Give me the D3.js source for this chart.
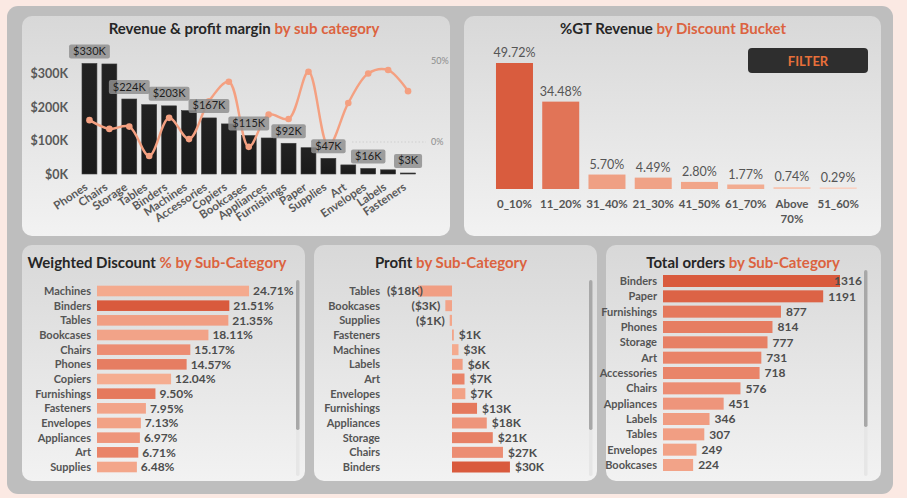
<!DOCTYPE html>
<html><head><meta charset="utf-8">
<script src="https://cdn.jsdelivr.net/npm/d3@7"></script>
<style>
html,body{margin:0;padding:0;background:#fbe9e3;}
svg{display:block;font-family:Lato,"Open Sans",sans-serif;}
</style></head><body>
<svg id="c" width="907" height="498"></svg>
<script>
// ---------- DATA ----------
const subCategories = ["Phones","Chairs","Storage","Tables","Binders","Machines","Accessories","Copiers","Bookcases","Appliances","Furnishings","Paper","Supplies","Art","Envelopes","Labels","Fasteners"];
const revenue = [330007,328449,223844,206966,203413,189239,167380,149528,114880,107532,91705,78479,46674,27119,16476,12486,3024];
const profitMargin = [0.135,0.081,0.095,-0.086,0.149,0.018,0.251,0.372,-0.030,0.169,0.142,0.434,-0.025,0.241,0.423,0.444,0.314];
const revenueTicks = [0,100000,200000,300000];
const marginTicks = [0,0.5];

const discountBuckets = ["0_10%","11_20%","31_40%","21_30%","41_50%","61_70%","Above 70%","51_60%"];
const gtRevenueShare = [0.4972,0.3448,0.0570,0.0449,0.0280,0.0177,0.0074,0.0029];

const discountNames = ["Machines","Binders","Tables","Bookcases","Chairs","Phones","Copiers","Furnishings","Fasteners","Envelopes","Appliances","Art","Supplies"];
const weightedDiscount = [0.2471,0.2151,0.2135,0.1811,0.1517,0.1457,0.1204,0.0950,0.0795,0.0713,0.0697,0.0671,0.0648];

const profitNames = ["Tables","Bookcases","Supplies","Fasteners","Machines","Labels","Art","Envelopes","Furnishings","Appliances","Storage","Chairs","Binders"];
const profitValues = [-17725,-3473,-1189,950,3385,5546,6528,6964,13059,18138,21279,26590,30222];

// orders: first 13 are visible in the scrolled list, the rest are estimates (hidden rows)
const orderNames = ["Binders","Paper","Furnishings","Phones","Storage","Art","Accessories","Chairs","Appliances","Labels","Tables","Envelopes","Bookcases","Fasteners","Supplies","Machines","Copiers"];
const orderCounts = [1316,1191,877,814,777,731,718,576,451,346,307,249,224,212,184,111,66];
const visibleOrderRows = 13;

// ---------- SETUP ----------
const svg = d3.select("#c");
const defs = svg.append("defs");
const pg = defs.append("linearGradient").attr("id","panelGrad").attr("x1",0).attr("y1",0).attr("x2",0).attr("y2",1);
pg.append("stop").attr("offset","0%").attr("stop-color","#d8d8d8");
pg.append("stop").attr("offset","100%").attr("stop-color","#f2f2f2");
const bgd = defs.append("linearGradient").attr("id","barGrad").attr("x1",0).attr("y1",0).attr("x2",0).attr("y2",1);
bgd.append("stop").attr("offset","0%").attr("stop-color","#222");
bgd.append("stop").attr("offset","100%").attr("stop-color","#1a1a1a");

svg.append("rect").attr("x",7).attr("y",6).attr("width",886).attr("height",488).attr("rx",11).attr("fill","#bebebe");

const panels = [[22,16,428,220],[464,16,417,220],[22,245,283,236],[314,245,283,236],[606,245,275,236]];
svg.selectAll("rect.panel").data(panels).join("rect").attr("class","panel")
  .attr("x",d=>d[0]).attr("y",d=>d[1]).attr("width",d=>d[2]).attr("height",d=>d[3])
  .attr("rx",10).attr("fill","url(#panelGrad)");

const ORANGE = "#dc6340";
function title(x,y,a,b,size){
  const t = svg.append("text").attr("x",x).attr("y",y).attr("text-anchor","middle")
    .attr("font-weight",700).attr("font-size",size||15);
  t.append("tspan").attr("fill","#262626").text(a);
  t.append("tspan").attr("fill",ORANGE).text(b);
}

const orderColor = d3.scaleLinear().domain([100,600,1316]).range(["#f4ab8f","#ec8c72","#d95a3d"]);
const ordersByName = new Map(orderNames.map((n,i)=>[n,orderCounts[i]]));

// ---------- CHART 1: Revenue & profit margin ----------
title(244,34,"Revenue & profit margin ","by sub category",15);
const x1 = d3.scaleBand().domain(subCategories).range([79.5,418]).paddingInner(0.25).paddingOuter(0.125);
const y1 = d3.scaleLinear().domain([0,300000]).range([174,73.5]);
const y1r = d3.scaleLinear().domain([0,0.5]).range([142,61]);

const ax1 = svg.append("g").attr("transform","translate(68,0)")
  .call(d3.axisLeft(y1).tickValues(revenueTicks).tickFormat(d=>"$"+d/1000+"K").tickSize(0).tickPadding(0));
ax1.select(".domain").remove();
ax1.selectAll("text").attr("font-family","Lato").attr("font-weight",700).attr("font-size",12.5).attr("fill","#595959");

const ax1r = svg.append("g").attr("transform","translate(431,0)")
  .call(d3.axisRight(y1r).tickValues(marginTicks).tickFormat(d3.format(".0%")).tickSize(0).tickPadding(0));
ax1r.select(".domain").remove();
ax1r.selectAll("text").attr("font-family","Lato").attr("font-size",9).attr("fill","#8c8c8c");

svg.append("line").attr("x1",352).attr("x2",426).attr("y1",y1r(0)).attr("y2",y1r(0))
  .attr("stroke","#cfcfcf").attr("stroke-dasharray","1.5 2");

svg.append("g").selectAll("rect").data(revenue).join("rect")
  .attr("x",(d,i)=>x1(subCategories[i])).attr("y",d=>y1(d))
  .attr("width",x1.bandwidth()).attr("height",d=>y1(0)-y1(d))
  .attr("fill","url(#barGrad)").attr("stroke","#3c3c3c").attr("stroke-width",0.6);

const axb = svg.append("g").attr("transform","translate(0,174)")
  .call(d3.axisBottom(x1).tickSize(0));
axb.select(".domain").remove();
axb.selectAll("text").attr("y",0).attr("dy",0).attr("text-anchor","end")
  .attr("transform","translate(-1,15) rotate(-34)")
  .attr("font-family","Lato").attr("font-weight",700).attr("font-size",11.5).attr("fill","#5a5a5a");

const cx1 = i=>x1(subCategories[i])+x1.bandwidth()/2;
const line1 = d3.line().x((d,i)=>cx1(i)).y(d=>y1r(d)).curve(d3.curveCatmullRom.alpha(0.5));
svg.append("path").datum(profitMargin).attr("d",line1).attr("fill","none")
  .attr("stroke","#f4a081").attr("stroke-width",2.4);
svg.append("g").selectAll("circle").data(profitMargin).join("circle")
  .attr("cx",(d,i)=>cx1(i)).attr("cy",d=>y1r(d)).attr("r",3.3).attr("fill","#f4a081");

const lblG = svg.append("g");
revenue.forEach((v,i)=>{
  if(i%2) return;
  const g = lblG.append("g");
  const t = g.append("text").attr("x",cx1(i)).attr("y",y1(v)-8.5).attr("text-anchor","middle")
    .attr("font-family","Lato").attr("font-size",11).attr("fill","#1e1e1e")
    .text("$"+Math.round(v/1000)+"K");
  const w = t.node().getComputedTextLength()+8;
  g.insert("rect","text").attr("x",cx1(i)-w/2).attr("y",y1(v)-19).attr("width",w).attr("height",14)
    .attr("rx",2).attr("fill","#8f8f8f").attr("fill-opacity",0.85);
});

// ---------- CHART 2: %GT Revenue by discount bucket ----------
title(673,34,"%GT Revenue ","by Discount Bucket",15);
const x2 = d3.scaleBand().domain(discountBuckets).range([490.2,862.5]).paddingInner(0.2).paddingOuter(0.125);
const y2 = d3.scaleLinear().domain([0,0.5]).range([189,62.3]);
const c2 = d3.scaleLinear().domain([0,0.02,0.5]).range(["#f9d8cb","#f1a68a","#d95c3e"]);
svg.append("g").selectAll("rect").data(gtRevenueShare).join("rect")
  .attr("x",(d,i)=>x2(discountBuckets[i])).attr("width",x2.bandwidth())
  .attr("y",d=>Math.min(y2(d),y2(0)-1.6)).attr("height",d=>Math.max(y2(0)-y2(d),1.6))
  .attr("fill",d=>c2(d));
svg.append("g").selectAll("text").data(gtRevenueShare).join("text")
  .attr("x",(d,i)=>x2(discountBuckets[i])+x2.bandwidth()/2).attr("y",d=>y2(d)-6)
  .attr("text-anchor","middle").attr("font-size",12.5).attr("fill","#555")
  .text(d=>d3.format(".2%")(d));
const xl2 = svg.append("g").selectAll("text").data(discountBuckets).join("text")
  .attr("x",d=>x2(d)+x2.bandwidth()/2).attr("y",208)
  .attr("text-anchor","middle").attr("font-weight",700).attr("font-size",11.5).attr("fill","#555");
xl2.each(function(d){
  const parts = d.split(" ");
  d3.select(this).selectAll("tspan").data(parts).join("tspan")
    .attr("x",x2(d)+x2.bandwidth()/2).attr("dy",(p,j)=>j?15:0).text(p=>p);
});
svg.append("rect").attr("x",748).attr("y",48).attr("width",120).attr("height",25).attr("rx",4).attr("fill","#2e2e2e");
svg.append("text").attr("x",808).attr("y",65.5).attr("text-anchor","middle").attr("font-weight",700)
  .attr("font-size",13).attr("fill","#e8703a").text("FILTER");

// ---------- generic horizontal bar helpers ----------
function scrollBar(x,y0,y1_,y2_){
  svg.append("rect").attr("x",x).attr("y",y0).attr("width",3.5).attr("height",y2_-y0).attr("rx",1.75).attr("fill","#e6e6e6");
  svg.append("rect").attr("x",x).attr("y",y0).attr("width",3.5).attr("height",y1_-y0).attr("rx",1.75).attr("fill","#a8a8a8");
}
function catLabels(names,y,x){
  svg.append("g").selectAll("text").data(names).join("text")
    .attr("x",x).attr("y",d=>y(d)).attr("dy","0.35em").attr("text-anchor","end")
    .attr("font-weight",700).attr("font-size",11).attr("fill","#555").text(d=>d);
}
const VFS = 12;

// ---------- CHART 3: Weighted discount ----------
title(157,268,"Weighted Discount ","% by Sub-Category",15);
const yW = d3.scalePoint().domain(discountNames).range([291,467]);
const xW = d3.scaleLinear().domain([0,0.25]).range([97,250.8]);
svg.append("g").selectAll("rect").data(weightedDiscount).join("rect")
  .attr("x",xW(0)).attr("y",(d,i)=>yW(discountNames[i])-5.3)
  .attr("width",d=>xW(d)-xW(0)).attr("height",10.6)
  .attr("fill",(d,i)=>orderColor(ordersByName.get(discountNames[i])));
catLabels(discountNames,yW,91);
svg.append("g").selectAll("text").data(weightedDiscount).join("text")
  .attr("x",d=>xW(d)+4).attr("y",(d,i)=>yW(discountNames[i])).attr("dy","0.36em")
  .attr("font-weight",700).attr("font-size",VFS).attr("fill","#4d4d4d").text(d=>d3.format(".2%")(d));
scrollBar(296,280,430,476);

// ---------- CHART 4: Profit ----------
title(451,268,"Profit ","by Sub-Category",15);
const yP = d3.scalePoint().domain(profitNames).range([291,467]);
const xP = d3.scaleLinear().domain([0,30000]).range([452,509.5]);
svg.append("g").selectAll("rect").data(profitValues).join("rect")
  .attr("x",d=>Math.min(xP(0),xP(d))).attr("y",(d,i)=>yP(profitNames[i])-5.5)
  .attr("width",d=>Math.max(Math.abs(xP(d)-xP(0)),1.5)).attr("height",11)
  .attr("fill",(d,i)=>orderColor(ordersByName.get(profitNames[i])));
catLabels(profitNames,yP,380);
const fmtK = d=>(d<0?"($":"$")+Math.round(Math.abs(d)/1000)+"K"+(d<0?")":"");
svg.append("g").selectAll("text").data(profitValues).join("text")
  .attr("x",d=>d<0?xP(d)-5:xP(d)+5).attr("text-anchor",d=>d<0?"end":"start")
  .attr("y",(d,i)=>yP(profitNames[i])).attr("dy","0.36em")
  .attr("font-weight",700).attr("font-size",VFS).attr("fill","#4d4d4d").text(fmtK)
  .each(function(d){
    if(d<0){
      const w = this.getComputedTextLength();
      const end = xP(d)-5;
      if(end-w < 387) d3.select(this).attr("x",387+w);
    }
  });
scrollBar(589,280,430,476);

// ---------- CHART 5: Total orders ----------
title(743,268,"Total orders ","by Sub-Category",15);
const oNames = orderNames.slice(0,visibleOrderRows), oVals = orderCounts.slice(0,visibleOrderRows);
const yO = d3.scalePoint().domain(oNames).range([281,465]);
const xO = d3.scaleLinear().domain([0,1316]).range([663,840]);
svg.append("g").selectAll("rect").data(oVals).join("rect")
  .attr("x",xO(0)).attr("y",(d,i)=>yO(oNames[i])-6).attr("width",d=>xO(d)-xO(0)).attr("height",12)
  .attr("fill",d=>orderColor(d));
catLabels(oNames,yO,657);
svg.append("g").selectAll("text").data(oVals).join("text")
  .attr("x",d=>Math.min(xO(d)+5,834)).attr("y",(d,i)=>yO(oNames[i])).attr("dy","0.36em")
  .attr("font-weight",700).attr("font-size",VFS).attr("fill","#4d4d4d").text(d=>d);
scrollBar(864,270,427,476);
</script></body></html>
